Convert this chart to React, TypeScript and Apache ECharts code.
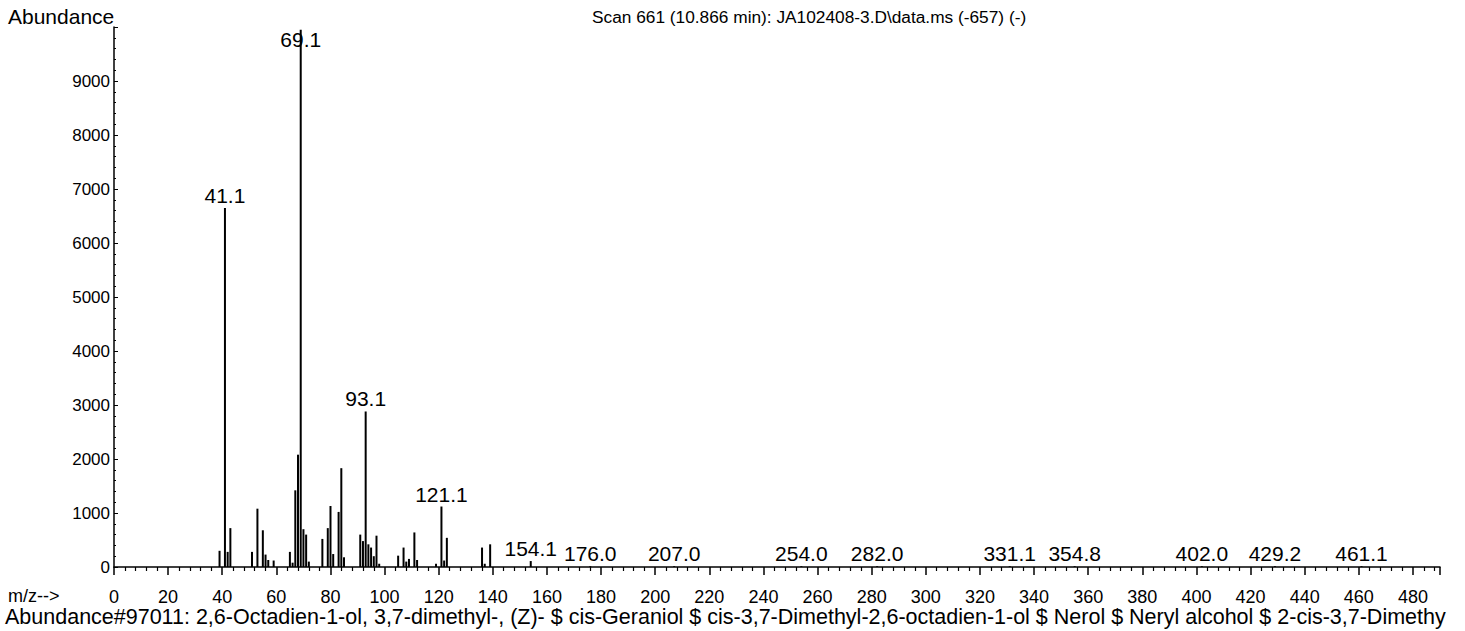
import React, { useEffect, useRef } from "react";
import * as echarts from "echarts";

const mzValues = [39, 41, 42, 43, 51, 53, 55, 56, 57, 59, 65, 66, 67, 68, 69, 70, 71, 72, 77, 79, 80, 81, 83, 84, 85, 91, 92, 93, 94, 95, 96, 97, 98, 105, 107, 108, 109, 111, 112, 119, 121, 122, 123, 136, 137, 139, 154, 176, 207, 254, 282, 331, 355, 402, 429, 461];
const abundances = [300, 6650, 280, 720, 280, 1080, 680, 230, 130, 120, 280, 80, 1420, 2080, 9950, 700, 600, 100, 520, 720, 1130, 240, 1020, 1830, 180, 600, 480, 2880, 420, 360, 200, 580, 60, 210, 360, 100, 150, 640, 130, 60, 1120, 120, 540, 360, 60, 420, 110, 15, 15, 15, 15, 15, 15, 15, 15, 15];
const labelMz = [41, 69, 93, 121, 154, 176, 207, 254, 282, 331, 355, 402, 429, 461];
const labelTexts = ["41.1", "69.1", "93.1", "121.1", "154.1", "176.0", "207.0", "254.0", "282.0", "331.1", "354.8", "402.0", "429.2", "461.1"];

const titleText = "Scan 661 (10.866 min): JA102408-3.D\\data.ms (-657) (-)";
const yAxisName = "Abundance";
const xAxisName = "m/z-->";
const footerText = "Abundance#97011: 2,6-Octadien-1-ol, 3,7-dimethyl-, (Z)- $ cis-Geraniol $ cis-3,7-Dimethyl-2,6-octadien-1-ol $ Nerol $ Neryl alcohol $ 2-cis-3,7-Dimethy";

const FONT = "'Liberation Sans', Arial, sans-serif";

export default function App() {
  const ref = useRef<HTMLDivElement>(null);
  useEffect(() => {
    if (!ref.current) return;
    const chart = echarts.init(ref.current, undefined, { renderer: "svg" });
    const data = mzValues.map((m, i) => {
      const li = labelMz.indexOf(m);
      return {
        value: [m, abundances[i]],
        label:
          li >= 0
            ? {
                show: true,
                formatter: labelTexts[li],
                position: "top",
                distance: 2,
                offset: m === 69 ? [0, 22] : [0, 0],
              }
            : { show: false },
      };
    });
    chart.setOption({
      animation: false,
      backgroundColor: "#fff",
      textStyle: { fontFamily: FONT, color: "#000" },
      grid: { left: 114, right: 25, top: 27, bottom: 64 },
      xAxis: {
        type: "value",
        min: 0,
        max: 490,
        interval: 20,
        axisLine: { show: true, lineStyle: { color: "#000", width: 1.5 } },
        axisTick: { show: true, length: 8, lineStyle: { color: "#000", width: 1.5 } },
        minorTick: { show: true, splitNumber: 5, length: 4, lineStyle: { color: "#000", width: 1.2 } },
        axisLabel: { color: "#000", fontSize: 18, fontFamily: FONT, margin: 21, showMaxLabel: false },
        splitLine: { show: false },
      },
      yAxis: {
        type: "value",
        min: 0,
        max: 10000,
        interval: 1000,
        axisLine: { show: true, lineStyle: { color: "#000", width: 1.5 } },
        axisTick: { show: true, inside: true, length: 4, lineStyle: { color: "#000" } },
        minorTick: { show: true, splitNumber: 5, length: 2, lineStyle: { color: "#000" } },
        axisLabel: {
          color: "#000",
          fontSize: 17,
          fontFamily: FONT,
          margin: 4,
          showMaxLabel: false,
          formatter: (v: number) => String(v),
        },
        splitLine: { show: false },
      },
      series: [
        {
          type: "bar",
          data,
          barWidth: 2,
          itemStyle: { color: "#000" },
          label: { color: "#000", fontSize: 21, fontFamily: FONT },
        },
      ],
      graphic: [
        { type: "text", left: 8, top: 6, style: { text: yAxisName, fontSize: 21, fontFamily: FONT, fill: "#000" } },
        { type: "text", left: 592, top: 8, style: { text: titleText, fontSize: 17.3, fontFamily: FONT, fill: "#000" } },
        { type: "text", left: 8, top: 587, style: { text: xAxisName, fontSize: 18, fontFamily: FONT, fill: "#000" } },
        { type: "text", left: 5, top: 606, style: { text: footerText, fontSize: 21.5, fontFamily: FONT, fill: "#000" } },
      ],
    });
    return () => chart.dispose();
  }, []);
  return (
    <div
      ref={ref}
      style={{ position: "fixed", left: 0, top: 0, width: 1465, height: 631 }}
    />
  );
}
